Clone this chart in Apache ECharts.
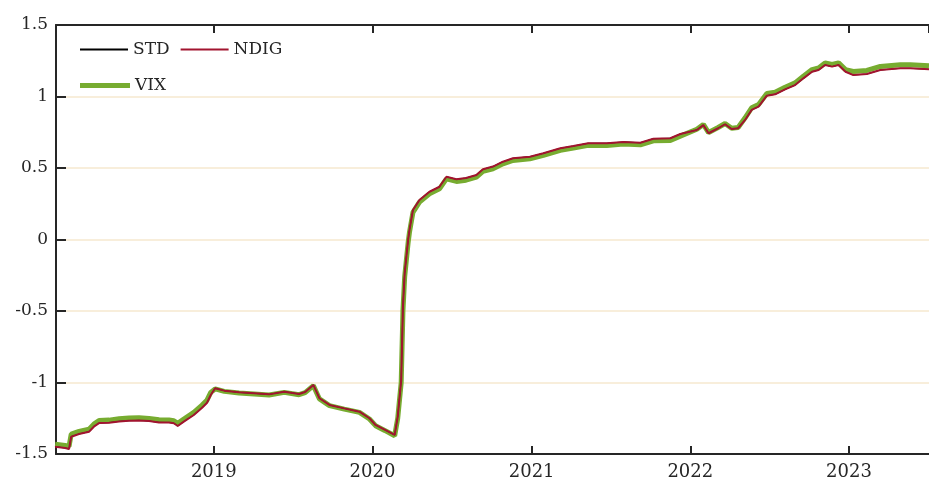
<!DOCTYPE html>
<html>
<head>
<meta charset="utf-8">
<script src="https://cdn.jsdelivr.net/npm/echarts@6/dist/echarts.min.js"></script>
<style>
  html, body { margin: 0; padding: 0; background: #fff; }
  #chart { width: 929px; height: 481px; }
</style>
</head>
<body>
<div id="chart"></div>
<script>
// Observation dates shared by all three series
const dates = [
  '2018-01-01','2018-01-24','2018-02-02','2018-02-07','2018-02-25','2018-03-20','2018-03-31','2018-04-12',
  '2018-05-05','2018-05-28','2018-06-20','2018-07-13','2018-08-05','2018-08-28','2018-09-20','2018-10-01',
  '2018-10-10','2018-10-24','2018-11-16','2018-12-05','2018-12-16','2018-12-25',
  '2019-01-04','2019-01-25','2019-02-28','2019-04-04','2019-05-08','2019-06-12','2019-07-16','2019-07-30',
  '2019-08-18','2019-09-01','2019-09-24','2019-10-28','2019-12-02','2019-12-25',
  '2020-01-08','2020-01-29','2020-02-21','2020-02-28','2020-03-07','2020-03-11','2020-03-15','2020-03-23',
  '2020-03-26','2020-04-03','2020-04-18','2020-05-11','2020-06-03','2020-06-19','2020-07-12','2020-08-03',
  '2020-08-27','2020-09-11','2020-10-04','2020-10-27','2020-11-19','2020-12-28',
  '2021-01-28','2021-03-08','2021-04-07','2021-05-11','2021-06-23','2021-07-31','2021-09-08','2021-10-08',
  '2021-11-16','2021-12-09',
  '2022-01-16','2022-01-31','2022-02-12','2022-03-06','2022-03-22','2022-04-06','2022-04-21','2022-05-07',
  '2022-05-22','2022-06-07','2022-06-26','2022-07-15','2022-08-07','2022-08-30','2022-09-18','2022-10-08',
  '2022-10-23','2022-11-07','2022-11-23','2022-12-08','2022-12-24',
  '2023-01-11','2023-02-11','2023-03-14','2023-04-29','2023-05-22','2023-07-04'
];

const ndig = [
  -1.449,-1.458,-1.465,-1.379,-1.360,-1.344,-1.309,-1.284,
  -1.281,-1.272,-1.267,-1.265,-1.270,-1.279,-1.280,-1.285,
  -1.304,-1.274,-1.227,-1.176,-1.143,-1.087,
  -1.040,-1.057,-1.069,-1.076,-1.083,-1.064,-1.080,-1.066,
  -1.017,-1.110,-1.157,-1.181,-1.204,-1.250,
  -1.297,-1.330,-1.367,-1.239,-0.983,-0.470,-0.235,0.000,
  0.066,0.206,0.276,0.334,0.369,0.439,0.421,0.430,
  0.451,0.491,0.510,0.544,0.568,0.579,
  0.603,0.638,0.654,0.673,0.673,0.682,0.677,0.705,
  0.708,0.738,
  0.766,0.800,0.743,0.778,0.806,0.773,0.778,0.836,
  0.906,0.929,1.006,1.015,1.050,1.080,1.127,1.173,
  1.185,1.220,1.209,1.220,1.173,
  1.150,1.157,1.185,1.197,1.197,1.190
];

const std = [
  -1.449,-1.458,-1.465,-1.379,-1.360,-1.344,-1.309,-1.284,
  -1.281,-1.272,-1.267,-1.265,-1.270,-1.279,-1.280,-1.285,
  -1.304,-1.274,-1.227,-1.176,-1.143,-1.087,
  -1.040,-1.057,-1.069,-1.076,-1.083,-1.064,-1.080,-1.066,
  -1.017,-1.110,-1.157,-1.181,-1.204,-1.250,
  -1.297,-1.330,-1.367,-1.239,-0.983,-0.470,-0.235,0.000,
  0.066,0.206,0.276,0.334,0.369,0.439,0.421,0.430,
  0.451,0.491,0.510,0.544,0.568,0.579,
  0.603,0.638,0.654,0.673,0.673,0.682,0.677,0.705,
  0.708,0.738,
  0.766,0.800,0.743,0.778,0.806,0.773,0.778,0.836,
  0.906,0.929,1.006,1.015,1.050,1.080,1.127,1.173,
  1.185,1.220,1.209,1.220,1.173,
  1.150,1.157,1.185,1.197,1.197,1.190
];

const vix = [
  -1.431,-1.440,-1.447,-1.361,-1.342,-1.326,-1.291,-1.266,
  -1.263,-1.254,-1.249,-1.247,-1.252,-1.261,-1.262,-1.267,
  -1.286,-1.256,-1.209,-1.158,-1.125,-1.069,
  -1.045,-1.062,-1.074,-1.081,-1.088,-1.069,-1.085,-1.071,
  -1.022,-1.115,-1.162,-1.186,-1.209,-1.255,
  -1.302,-1.335,-1.372,-1.250,-1.000,-0.500,-0.260,-0.020,
  0.050,0.190,0.261,0.319,0.354,0.424,0.406,0.415,
  0.436,0.476,0.495,0.529,0.553,0.564,
  0.588,0.623,0.639,0.658,0.658,0.667,0.662,0.690,
  0.693,0.723,
  0.771,0.805,0.748,0.783,0.811,0.778,0.783,0.851,
  0.921,0.944,1.021,1.030,1.065,1.095,1.142,1.188,
  1.200,1.235,1.224,1.235,1.188,
  1.175,1.182,1.210,1.222,1.222,1.215
];

const yTicks = [-1.5, -1, -0.5, 0, 0.5, 1, 1.5];

const pair = arr => dates.map((d, i) => [d, arr[i]]);

const FONT = 'DejaVu Serif';
const INK = '#262626';
const DAY_MS = 24 * 3600 * 1000;

const xCommon = {
  type: 'time',
  min: '2018-01-03',
  max: '2023-07-04',
  minInterval: 365 * DAY_MS,
  maxInterval: 367 * DAY_MS,
  axisLine: { show: true, onZero: false, lineStyle: { color: INK, width: 2 } },
  axisTick: { show: true, inside: true, length: 8, lineStyle: { color: INK, width: 2 } },
  splitLine: { show: false },
  minorTick: { show: false }
};

const legendText = { fontFamily: FONT, fontSize: 17, color: INK };

const chart = echarts.init(document.getElementById('chart'), null, { renderer: 'canvas' });

chart.setOption({
  animation: false,
  backgroundColor: '#ffffff',
  grid: { left: 56, right: 0, top: 25, bottom: 27, containLabel: false },
  legend: [
    {
      data: [
        { name: 'STD', icon: 'rect' },
        { name: 'NDIG', icon: 'rect' }
      ],
      left: 80, top: 41, padding: 0,
      itemWidth: 48, itemHeight: 2, itemGap: 11,
      textStyle: legendText
    },
    {
      data: [{ name: 'VIX', icon: 'rect' }],
      left: 80, top: 77, padding: 0,
      itemWidth: 50, itemHeight: 5, itemGap: 11,
      textStyle: legendText
    }
  ],
  xAxis: [
    Object.assign({}, xCommon, {
      position: 'bottom',
      axisLabel: {
        showMinLabel: false,
        formatter: '{yyyy}',
        fontFamily: FONT, fontSize: 18, color: INK, margin: 9
      }
    }),
    Object.assign({}, xCommon, {
      position: 'top',
      axisLabel: { show: false }
    })
  ],
  yAxis: {
    type: 'value',
    min: yTicks[0],
    max: yTicks[yTicks.length - 1],
    interval: 0.5,
    axisLine: { show: true, lineStyle: { color: INK, width: 2 } },
    axisTick: { show: true, inside: true, length: 10, lineStyle: { color: INK, width: 2 } },
    axisLabel: { fontFamily: FONT, fontSize: 17, color: INK, margin: 8 },
    splitLine: { show: true, lineStyle: { color: '#f8eedb', width: 2 } }
  },
  series: [
    {
      name: 'STD', type: 'line', xAxisIndex: 0, data: pair(std),
      symbol: 'none', z: 3,
      lineStyle: { color: '#000000', width: 1 },
      itemStyle: { color: '#000000' }
    },
    {
      name: 'NDIG', type: 'line', xAxisIndex: 0, data: pair(ndig),
      symbol: 'none', z: 4,
      lineStyle: { color: '#a2142f', width: 2 },
      itemStyle: { color: '#a2142f' }
    },
    {
      name: 'VIX', type: 'line', xAxisIndex: 0, data: pair(vix),
      symbol: 'none', z: 2,
      lineStyle: { color: '#77ac30', width: 5 },
      itemStyle: { color: '#77ac30' }
    }
  ]
});
</script>
</body>
</html>
